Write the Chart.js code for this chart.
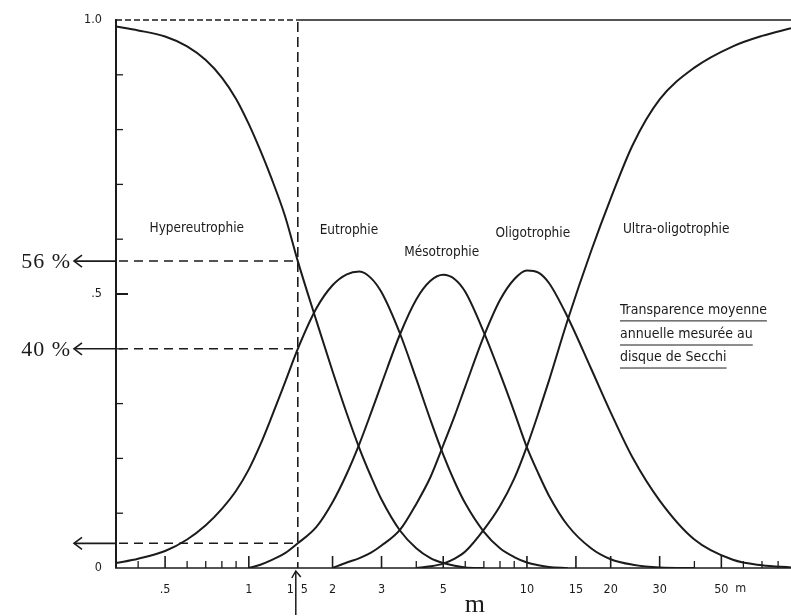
<!DOCTYPE html>
<html>
<head>
<meta charset="utf-8">
<script src="https://cdn.jsdelivr.net/npm/chart.js@4.4.1/dist/chart.umd.min.js"></script>
<style>
  html, body { margin: 0; padding: 0; background: #fff; }
</style>
</head>
<body>
<canvas id="myChart" width="791" height="616"></canvas>
<script>
// profondeur de Secchi (m), axe log
const depth = [0.333, 0.4, 0.5, 0.6, 0.7, 0.8, 0.9, 1, 1.1, 1.2, 1.35, 1.5, 1.75, 2, 2.25, 2.5, 2.75, 3, 3.5, 4,
               4.5, 5, 5.5, 6, 7, 8, 9, 10, 11, 12, 14, 17, 20, 24, 30, 40, 55, 70, 89];

// probabilite de chaque classe trophique (null = hors courbe)
const hyper = [0.988, 0.981, 0.970, 0.952, 0.927, 0.895, 0.856, 0.81, 0.762, 0.714, 0.642, 0.56, 0.451, 0.359, 0.282, 0.218, 0.167, 0.125, 0.068, 0.036,
               0.018, 0.009, 0.004, 0.001, 0, null, null, null, null, null, null, null, null, null, null, null, null, null, null];
const eutro = [0.009, 0.017, 0.031, 0.052, 0.078, 0.108, 0.141, 0.18, 0.225, 0.272, 0.339, 0.40, 0.474, 0.516, 0.536, 0.541, 0.529, 0.503, 0.427, 0.345,
               0.27, 0.207, 0.157, 0.118, 0.066, 0.036, 0.02, 0.01, 0.005, 0.002, 0, null, null, null, null, null, null, null, null];
const meso = [null, null, null, null, null, null, null, 0, 0.006, 0.014, 0.027, 0.045, 0.075, 0.12, 0.172, 0.227, 0.283, 0.336, 0.427, 0.49,
              0.524, 0.535, 0.527, 0.504, 0.43, 0.355, 0.285, 0.22, 0.172, 0.132, 0.078, 0.036, 0.016, 0.006, 0.001, 0, null, null, null];
const oligo = [null, null, null, null, null, null, null, null, null, null, null, null, null, 0, 0.01, 0.018, 0.028, 0.041, 0.07, 0.117,
               0.166, 0.224, 0.278, 0.331, 0.423, 0.489, 0.527, 0.543, 0.539, 0.52, 0.458, 0.364, 0.284, 0.201, 0.123, 0.052, 0.015, 0.005, 0.001];
const ultra = [null, null, null, null, null, null, null, null, null, null, null, null, null, null, null, null, null, null, null, 0,
               0.003, 0.008, 0.017, 0.03, 0.07, 0.113, 0.163, 0.222, 0.283, 0.342, 0.452, 0.578, 0.674, 0.772, 0.855, 0.913, 0.952, 0.971, 0.985];

// lecture a 1,5 m
const readDepth = 1.5;
const readValues = [0.56, 0.40, 0.045];
const readLabels = ['56 %', '40 %', ''];

// graduations
const xMajor = [0.5, 1, 2, 3, 5, 10, 15, 20, 30, 50];
const xMinor = [0.4, 0.6, 0.7, 0.8, 0.9, 4, 6, 7, 8, 9, 40, 60, 70, 80];
const xLabels = [[0.5, '.5'], [1, '1'], [2, '2'], [3, '3'], [5, '5'], [10, '10'], [15, '15'], [20, '20'], [30, '30'], [50, '50']];
const yTicks = [0.1, 0.2, 0.3, 0.4, 0.5, 0.6, 0.7, 0.8, 0.9];
const yLabels = [[1, '1.0'], [0.5, '.5'], [0, '0']];

// noms des classes : [texte, profondeur, probabilite]
const classNames = [
  ['Hypereutrophie', 0.65, 0.62],
  ['Eutrophie', 2.29, 0.615],
  ['Mésotrophie', 4.94, 0.575],
  ['Oligotrophie', 10.5, 0.61],
  ['Ultra-oligotrophie', 34.4, 0.617]
];
const noteLines = ['Transparence moyenne', 'annuelle mesurée au', 'disque de Secchi'];

const INK = '#1b1b1b';
const SANS = "'DejaVu Sans Condensed', 'Liberation Sans Narrow', 'DejaVu Sans', sans-serif";
const SERIF = "'Liberation Serif', 'DejaVu Serif', serif";

function curve(vals) {
  return {
    data: depth.map((d, i) => ({ x: d, y: vals[i] })),
    borderColor: INK,
    borderWidth: 2,
    pointRadius: 0,
    fill: false,
    spanGaps: false,
    cubicInterpolationMode: 'monotone'
  };
}

const decor = {
  id: 'decor',
  afterDatasetsDraw(chart) {
    const c = chart.ctx;
    const xs = chart.scales.x, ys = chart.scales.y;
    const X = v => xs.getPixelForValue(v);
    const Y = v => ys.getPixelForValue(v);
    const left = chart.chartArea.left, right = chart.chartArea.right;
    const x0 = X(readDepth);

    c.save();
    c.strokeStyle = INK;
    c.fillStyle = INK;

    // ligne du haut (1.0)
    c.lineWidth = 1.3;
    c.setLineDash([6, 3]);
    c.beginPath(); c.moveTo(left, Y(1)); c.lineTo(x0, Y(1)); c.stroke();
    c.setLineDash([]);
    c.beginPath(); c.moveTo(x0, Y(1)); c.lineTo(right, Y(1)); c.stroke();

    // axes
    c.lineWidth = 2;
    c.beginPath(); c.moveTo(left, Y(1) - 1); c.lineTo(left, Y(0)); c.stroke();
    c.lineWidth = 1.6;
    c.beginPath(); c.moveTo(left - 1, Y(0)); c.lineTo(right, Y(0)); c.stroke();

    // graduations x (vers le haut)
    c.lineWidth = 1.6;
    xMajor.forEach(v => {
      c.beginPath(); c.moveTo(X(v), Y(0)); c.lineTo(X(v), Y(0) - 12); c.stroke();
    });
    c.lineWidth = 1.3;
    xMinor.forEach(v => {
      c.beginPath(); c.moveTo(X(v), Y(0)); c.lineTo(X(v), Y(0) - 7); c.stroke();
    });

    // graduations y (vers la droite)
    yTicks.forEach(v => {
      c.lineWidth = v === 0.5 ? 2 : 1.3;
      const len = v === 0.5 ? 12 : 7;
      c.beginPath(); c.moveTo(left, Y(v)); c.lineTo(left + len, Y(v)); c.stroke();
    });

    // libelles des axes
    c.font = '12.5px ' + SANS;
    c.textBaseline = 'middle';
    c.textAlign = 'center';
    xLabels.forEach(([v, t]) => c.fillText(t, X(v), Y(0) + 22));
    c.textAlign = 'right';
    c.fillText('1', x0 - 4, Y(0) + 22);
    c.textAlign = 'left';
    c.fillText('5', x0 + 3, Y(0) + 22);
    c.fillText('m', X(50) + 14, Y(0) + 21);
    c.textAlign = 'right';
    yLabels.forEach(([v, t]) => c.fillText(t, left - 14, Y(v)));

    // verticale pointillee a 1,5 m
    c.lineWidth = 1.6;
    c.setLineDash([10, 5]);
    c.beginPath(); c.moveTo(x0, Y(1) + 2); c.lineTo(x0, Y(0)); c.stroke();
    c.setLineDash([]);

    // fleche sous l'axe
    c.lineWidth = 1.5;
    c.beginPath(); c.moveTo(x0 - 2, Y(0) + 4); c.lineTo(x0 - 2, chart.height - 1); c.stroke();
    c.beginPath();
    c.moveTo(x0 - 6, Y(0) + 10); c.lineTo(x0 - 2, Y(0) + 3); c.lineTo(x0 + 3, Y(0) + 9);
    c.stroke();

    // lectures : pointilles + fleches a gauche
    readValues.forEach((v, i) => {
      const yy = Y(v);
      c.lineWidth = 1.5;
      c.setLineDash([9, 6]);
      c.beginPath(); c.moveTo(left + 3, yy); c.lineTo(x0, yy); c.stroke();
      c.setLineDash([]);
      c.lineWidth = 1.6;
      c.beginPath(); c.moveTo(left, yy); c.lineTo(left - 42, yy); c.stroke();
      c.beginPath();
      c.moveTo(left - 34, yy - 6); c.lineTo(left - 42, yy); c.lineTo(left - 34, yy + 6);
      c.stroke();
      if (readLabels[i]) {
        c.font = '22px ' + SERIF;
        c.letterSpacing = '1px';
        c.textAlign = 'right';
        c.fillText(readLabels[i], left - 45, yy + 1);
        c.letterSpacing = '0px';
      }
    });

    // noms des classes
    c.font = '13.5px ' + SANS;
    c.textAlign = 'center';
    classNames.forEach(([t, d, p]) => c.fillText(t, X(d), Y(p)));

    // note soulignee
    c.font = '14px ' + SANS;
    c.textAlign = 'left';
    const nx = X(21.6);
    const ny = [0.471, 0.427, 0.385];
    noteLines.forEach((t, i) => {
      c.fillText(t, nx, Y(ny[i]));
      const w = c.measureText(t).width;
      c.lineWidth = 1;
      c.beginPath(); c.moveTo(nx, Y(ny[i]) + 11); c.lineTo(nx + w, Y(ny[i]) + 11); c.stroke();
    });

    // unite ecrite a la main
    c.font = '26px ' + SERIF;
    c.textAlign = 'center';
    c.fillText('m', X(6.5), chart.height - 11);

    c.restore();
  }
};

const ctx = document.getElementById('myChart');
const myChart = new Chart(ctx, {
  type: 'line',
  data: {
    datasets: [curve(hyper), curve(eutro), curve(meso), curve(oligo), curve(ultra)]
  },
  options: {
    responsive: false,
    animation: false,
    layout: { padding: { left: 116, top: 20, right: 0, bottom: 48 } },
    plugins: { legend: { display: false }, tooltip: { enabled: false } },
    scales: {
      x: { type: 'logarithmic', min: 0.333, max: 89, bounds: 'data', display: false },
      y: { min: 0, max: 1, display: false }
    }
  },
  plugins: [decor]
});
</script>
</body>
</html>
